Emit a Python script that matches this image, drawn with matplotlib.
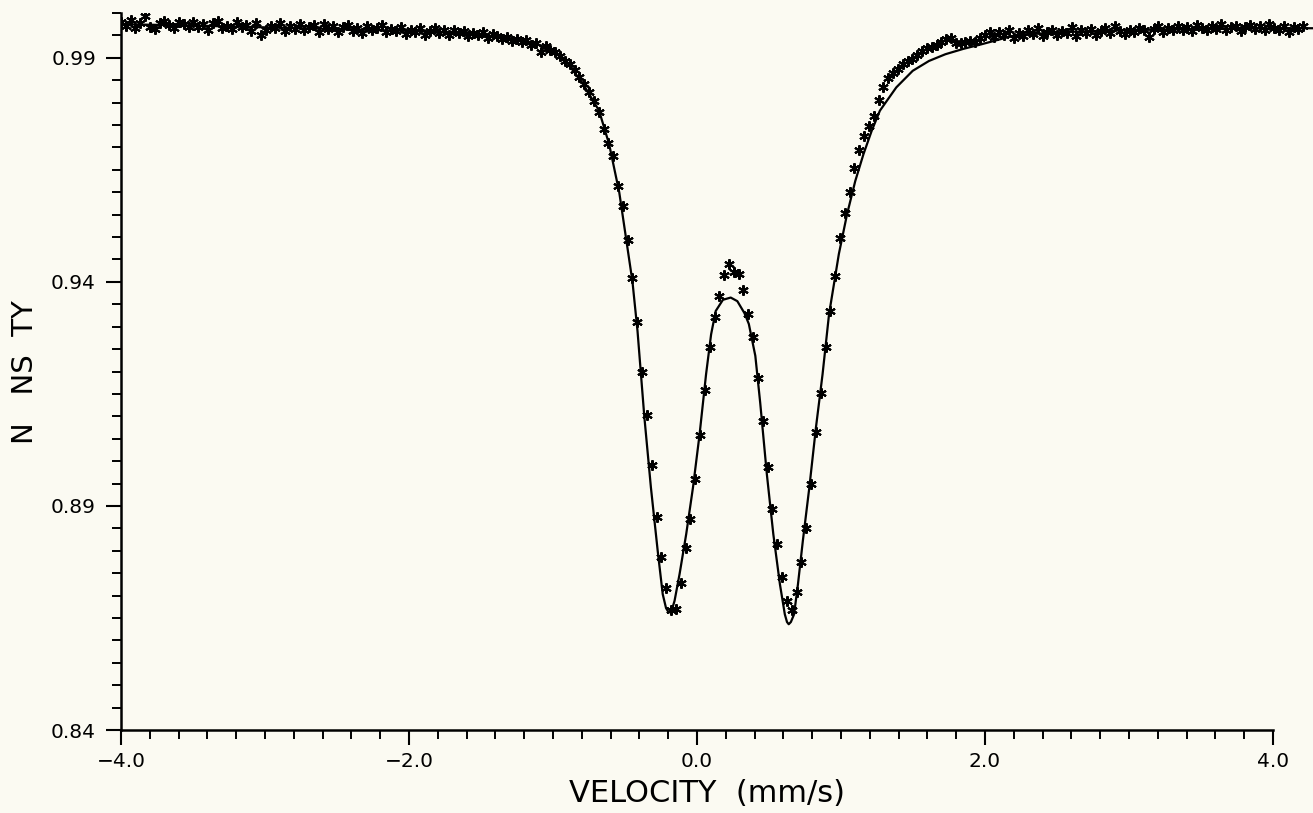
import numpy as np
import matplotlib
matplotlib.use("Agg")
import matplotlib.pyplot as plt
from matplotlib.ticker import FixedLocator, MultipleLocator

transmission = [
    # -4.0 .. -1.0 mm/s, baseline
    0.9981, 0.9971, 0.9985, 0.9967, 0.9977, 0.9993, 0.9969, 0.9964, 0.9978, 0.9982,
    0.9973, 0.9966, 0.9980, 0.9976, 0.9968, 0.9981, 0.9969, 0.9976, 0.9962, 0.9978,
    0.9983, 0.9967, 0.9972, 0.9964, 0.9979, 0.9969, 0.9974, 0.9960, 0.9977, 0.9952,
    0.9962, 0.9971, 0.9967, 0.9978, 0.9959, 0.9972, 0.9964, 0.9975, 0.9961, 0.9969,
    0.9973, 0.9958, 0.9976, 0.9965, 0.9970, 0.9957, 0.9968, 0.9973, 0.9960, 0.9966,
    0.9955, 0.9970, 0.9962, 0.9967, 0.9974, 0.9958, 0.9965, 0.9960, 0.9969, 0.9954,
    0.9963, 0.9957, 0.9966, 0.9951, 0.9960, 0.9967, 0.9955, 0.9961, 0.9950, 0.9963,
    0.9956, 0.9959, 0.9948, 0.9955, 0.9952, 0.9958, 0.9945, 0.9953, 0.9949, 0.9942,
    0.9947, 0.9938, 0.9943, 0.9935, 0.9939, 0.9928, 0.9932, 0.9914, 0.9926, 0.9918,
    # shoulder and doublet
    0.9912, 0.9905, 0.9893, 0.9887, 0.9872, 0.9858,
    0.9841, 0.9823, 0.9804, 0.9778, 0.9741, 0.9711, 0.9681, 0.9614, 0.9570, 0.9493,
    0.9408, 0.9311, 0.9200, 0.9103, 0.8992, 0.8876, 0.8786, 0.8717, 0.8667, 0.8670,
    0.8729, 0.8807, 0.8870, 0.8960, 0.9059, 0.9158, 0.9254, 0.9322, 0.9369, 0.9415,
    0.9440, 0.9423, 0.9417, 0.9382, 0.9329, 0.9277, 0.9186, 0.9089, 0.8986, 0.8893,
    0.8816, 0.8742, 0.8688, 0.8667, 0.8709, 0.8775, 0.8850, 0.8950, 0.9066, 0.9153,
    0.9254, 0.9336,
    # right wing
    0.9414, 0.9498, 0.9553, 0.9600, 0.9655, 0.9695, 0.9725, 0.9748, 0.9770, 0.9805,
    0.9835, 0.9855, 0.9866, 0.9876, 0.9886, 0.9893, 0.9898, 0.9906, 0.9915, 0.9923,
    0.9925, 0.9928, 0.9935, 0.9942, 0.9944, 0.9934, 0.9932, 0.9936, 0.9938, 0.9936,
    0.9945, 0.9952, 0.9958,
    # 2.0 .. 4.2 mm/s, baseline
    0.9946, 0.9958, 0.9950, 0.9961, 0.9944, 0.9955, 0.9949, 0.9962, 0.9953, 0.9966,
    0.9948, 0.9957, 0.9963, 0.9951, 0.9960, 0.9955, 0.9968, 0.9949, 0.9961, 0.9956,
    0.9964, 0.9952, 0.9959, 0.9966, 0.9955, 0.9972, 0.9960, 0.9953, 0.9963, 0.9958,
    0.9967, 0.9961, 0.9946, 0.9964, 0.9970, 0.9958, 0.9966, 0.9962, 0.9971, 0.9963,
    0.9968, 0.9959, 0.9973, 0.9966, 0.9961, 0.9970, 0.9964, 0.9975, 0.9962, 0.9968,
    0.9972, 0.9960, 0.9969, 0.9974, 0.9965, 0.9970, 0.9962, 0.9976, 0.9967, 0.9963,
    0.9971, 0.9958, 0.9968, 0.9964, 0.9970,
]
# channel velocities (mm/s), evenly spaced drive
velocity = np.linspace(-4.0, 4.21, len(transmission))

# fitted curve (two Lorentzians)
fit_velocity = [-4.0, -3.5, -3.0, -2.5, -2.0, -1.7, -1.5, -1.3, -1.2, -1.1,
                -1.0, -0.95, -0.895, -0.797, -0.68, -0.61, -0.54, -0.494, -0.448, -0.413,
                -0.366, -0.32, -0.273, -0.238, -0.215, -0.196, -0.175, -0.156, -0.121, -0.075,
                -0.028, 0.018, 0.063, 0.098, 0.13, 0.18, 0.234, 0.28, 0.33, 0.36,
                0.405, 0.439, 0.485, 0.53, 0.576, 0.61, 0.625, 0.637, 0.652, 0.674,
                0.701, 0.735, 0.78, 0.826, 0.872, 0.917, 0.985, 1.042, 1.099, 1.156,
                1.213, 1.27, 1.384, 1.498, 1.611, 1.725, 1.85, 1.973, 2.205, 2.5,
                3.0, 3.5, 4.0, 4.3]
fit_transmission = [0.9975, 0.9972, 0.9968, 0.9964, 0.9960, 0.9956, 0.9951, 0.9944, 0.9938, 0.9929,
                    0.9915, 0.9903, 0.9886, 0.9845, 0.9782, 0.9707, 0.9600, 0.9500, 0.9400, 0.9290,
                    0.9100, 0.8941, 0.8800, 0.8703, 0.8672, 0.8662, 0.8668, 0.8688, 0.8748, 0.8837,
                    0.8941, 0.9060, 0.9194, 0.9283, 0.9335, 0.9360, 0.9365, 0.9357, 0.9330, 0.9306,
                    0.9235, 0.9130, 0.8971, 0.8837, 0.8725, 0.8658, 0.8641, 0.8636, 0.8641, 0.8658,
                    0.8725, 0.8822, 0.8941, 0.9075, 0.9194, 0.9328, 0.9462, 0.9551, 0.9625, 0.9685,
                    0.9737, 0.9782, 0.9834, 0.9871, 0.9893, 0.9908, 0.9920, 0.9930, 0.9950, 0.9957,
                    0.9962, 0.9964, 0.9966, 0.9966]

x_major = [-4.0, -2.0, 0.0, 2.0, 4.0]
x_tick_labels = ["\u22124.0", "\u22122.0", "0.0", "2.0", "4.0"]
y_major = [0.84, 0.89, 0.94, 0.99]
y_tick_labels = ["0.84", "0.89", "0.94", "0.99"]

paper = "#fbfaf2"
W, H = 1313, 813
left_px = 121
fig = plt.figure(figsize=(W / 100, H / 100), dpi=100, facecolor=paper)
ax = fig.add_axes([left_px / W, 1 - 730 / H, (W - left_px) / W, (730 - 13) / H])
ax.set_facecolor(paper)

ax.plot(fit_velocity, fit_transmission, color="black", lw=1.6, zorder=2)
ax.plot(velocity, transmission, ls="none", marker=(6, 2, 0), ms=7.5, mew=1.5,
        color="black", zorder=3)

ax.set_xlim(-4.0, -4.0 + (W - left_px) / 144.0)
ax.set_ylim(0.84, 1.0)

for side in ["top", "right"]:
    ax.spines[side].set_visible(False)
ax.spines["bottom"].set_bounds(-4.0, 4.0)
ax.spines["left"].set_linewidth(1.8)
ax.spines["bottom"].set_linewidth(1.8)

ax.xaxis.set_major_locator(FixedLocator(x_major))
ax.set_xticklabels(x_tick_labels)
ax.xaxis.set_minor_locator(FixedLocator(np.arange(-4.0, 4.01, 0.2)))
ax.yaxis.set_major_locator(FixedLocator(y_major))
ax.set_yticklabels(y_tick_labels)
ax.yaxis.set_minor_locator(MultipleLocator(0.005))

ax.tick_params(which="major", direction="out", length=11, width=1.5, labelsize=14.5,
               colors="black")
ax.tick_params(which="minor", direction="out", length=6.5, width=1.4)
ax.tick_params(axis="y", which="major", pad=7)
ax.tick_params(axis="x", which="major", pad=5)

fig.text(707 / W, 1 - 793 / H, "VELOCITY  (mm/s)", ha="center", va="center",
         fontsize=22)
fig.text(25 / W, 1 - 372 / H, "N   NS  TY", ha="center", va="center",
         rotation=90, fontsize=21)

fig.savefig("out.png", dpi=100, facecolor=paper)
